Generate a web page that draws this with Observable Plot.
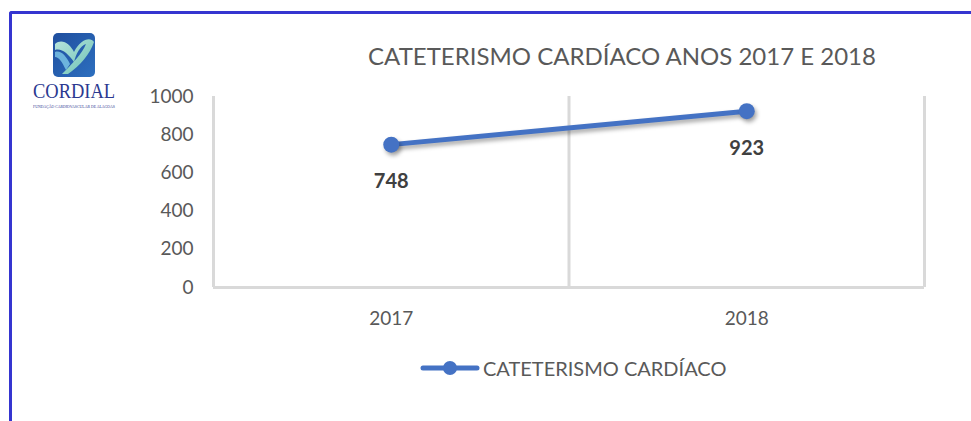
<!DOCTYPE html>
<html><head><meta charset="utf-8">
<script src="https://cdn.jsdelivr.net/npm/d3@7"></script>
<script src="https://cdn.jsdelivr.net/npm/@observablehq/plot@0.6"></script>
<style>
body{margin:0;background:#fff;}
#wrap{position:relative;width:971px;height:421px;overflow:hidden;font-family:Lato,"Open Sans",sans-serif;}
#border{position:absolute;left:9px;top:11px;width:980px;height:430px;border-top:3px solid #3535d0;border-left:3px solid #3535d0;border-top-left-radius:3px;box-sizing:border-box;}
#chart{position:absolute;left:0;top:0;}
#title{position:absolute;top:42px;left:622px;transform:translateX(-50%);white-space:nowrap;font-size:24px;color:#595959;line-height:28px;}
#legend{position:absolute;left:420px;top:356px;display:flex;align-items:center;font-size:20px;color:#595959;white-space:nowrap;}
#logo{position:absolute;left:28px;top:30px;width:92px;height:84px;overflow:visible;}
.shadow{filter:drop-shadow(2px 3px 2px rgba(0,0,0,0.35));}
</style></head>
<body>
<div id="wrap">
  <div id="border"></div>
  <svg id="logo" viewBox="0 0 92 84" width="92" height="84">
    <defs>
      <linearGradient id="lg" x1="0" y1="0" x2="1" y2="1">
        <stop offset="0" stop-color="#1f4e9e"/><stop offset="1" stop-color="#2d6fbf"/>
      </linearGradient>
      <linearGradient id="lg2" x1="0" y1="0" x2="1" y2="1">
        <stop offset="0" stop-color="#b8e4dc"/><stop offset="1" stop-color="#6cc3b5"/>
      </linearGradient>
    </defs>
    <rect x="25" y="3" width="42" height="44" rx="5" fill="url(#lg)"/>
    <path d="M27 14 C34 8 42 14 46 22 C52 10 62 6 66 12 C62 24 52 36 40 44 L34 44 C44 34 54 24 58 14 C52 16 48 24 46 32 C40 24 34 18 27 20 Z" fill="url(#lg2)"/>
    <path d="M27 22 C33 20 38 26 42 34 L38 40 C34 32 31 27 27 27 Z" fill="#7fc9e8" opacity="0.8"/>
    <text x="46" y="68" text-anchor="middle" font-family="'Liberation Serif','DejaVu Serif',serif" font-size="20" fill="#2b3990" textLength="82" lengthAdjust="spacingAndGlyphs">CORDIAL</text>
    <text x="46" y="77.5" text-anchor="middle" font-family="'Liberation Serif',serif" font-size="3.5" fill="#2b3990" textLength="82" lengthAdjust="spacingAndGlyphs">FUNDAÇÃO CARDIOVASCULAR DE ALAGOAS</text>
  </svg>
  <div id="title"></div>
  <div id="chart"></div>
  <div id="legend"></div>
</div>
<script>
const title = "CATETERISMO CARDÍACO ANOS 2017 E 2018";
const seriesName = "CATETERISMO CARDÍACO";
const years = [2017, 2018];
const values = [748, 923];
const yTicks = [0, 200, 400, 600, 800, 1000];

const data = years.map((yr, i) => ({year: yr, value: values[i]}));
const bounds = [years[0] - 0.5, ...years.map(y => y + 0.5)];
const blue = "#4472c4";

document.getElementById("title").textContent = title;

const chart = Plot.plot({
  width: 971, height: 421,
  marginLeft: 213, marginRight: 47, marginTop: 96, marginBottom: 134,
  x: {type: "linear", domain: [bounds[0], bounds[bounds.length - 1]]},
  y: {domain: [0, 1000]},
  style: {fontFamily: "Lato, 'Open Sans', sans-serif", color: "#595959", background: "transparent", overflow: "visible"},
  marks: [
    Plot.ruleX(bounds, {y1: 0, y2: 1000, stroke: "#d9d9d9", strokeWidth: 3}),
    Plot.ruleY([0], {stroke: "#d9d9d9", strokeWidth: 3}),
    Plot.axisY({ticks: yTicks, tickSize: 0, tickPadding: 20, fontSize: 19, label: null, fill: "#595959", tickFormat: d => String(d)}),
    Plot.axisX({ticks: years, tickSize: 0, tickPadding: 24, fontSize: 19, label: null, tickFormat: d => String(d), fill: "#595959"}),
    Plot.line(data, {x: "year", y: "value", stroke: blue, strokeWidth: 5, className: "shadow"}),
    Plot.dot(data, {x: "year", y: "value", r: 8, fill: blue, className: "shadow"}),
    Plot.text(data, {x: "year", y: "value", text: d => String(d.value), dy: 37, fontWeight: "bold", fontSize: 20, fill: "#404040"})
  ]
});
document.getElementById("chart").append(chart);

const legend = document.getElementById("legend");
legend.innerHTML = `<svg width="60" height="20" style="margin-right:3px"><line x1="3" y1="10" x2="57" y2="10" stroke="${blue}" stroke-width="5" stroke-linecap="round"/><circle cx="30" cy="10" r="7" fill="${blue}"/></svg><span></span>`;
legend.querySelector("span").textContent = seriesName;
</script>
</body></html>
